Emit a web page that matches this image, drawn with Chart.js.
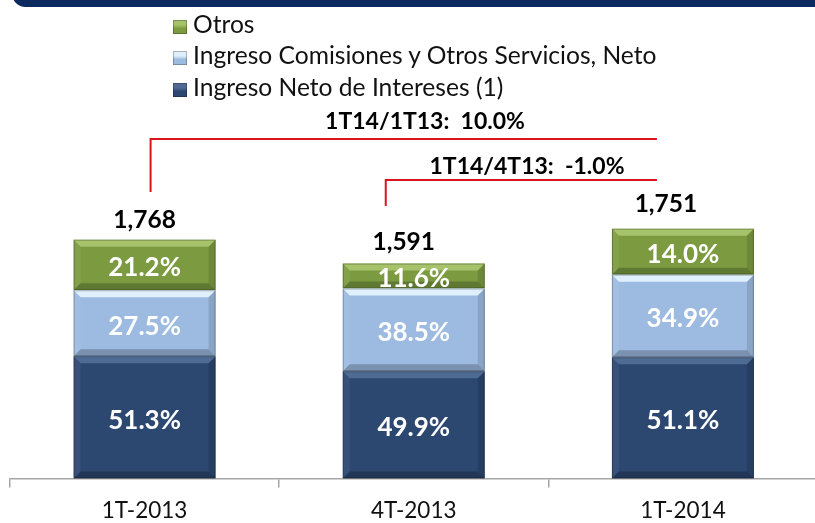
<!DOCTYPE html>
<html>
<head>
<meta charset="utf-8">
<script src="https://cdn.jsdelivr.net/npm/chart.js@4.4.1/dist/chart.umd.min.js"></script>
<style>
  html, body { margin: 0; padding: 0; background: #fff; overflow: hidden; width: 815px; height: 523px; }
  #topbar { position: absolute; left: 12px; top: -20px; width: 830px; height: 27px; background: #0c2a60; border-radius: 14px; }
  #wrap { position: absolute; left: 0; top: 0; width: 830px; height: 540px; }
  #legend { position: absolute; left: 173px; top: 8px; font-family: Lato, sans-serif; font-size: 24.6px; color: #111; }
  #legend div { height: 31.3px; line-height: 31.3px; white-space: nowrap; }
  #legend span.box { display: inline-block; width: 14px; height: 14px; margin-right: 6px; vertical-align: -1px; }
</style>
</head>
<body>
<div id="topbar"></div>
<div id="wrap"><canvas id="chart"></canvas></div>
<div id="legend"></div>
<script>
// data
const categories = ['1T-2013', '4T-2013', '1T-2014'];
const totals = [1768, 1591, 1751];
const seriesNames = ['Ingreso Neto de Intereses (1)', 'Ingreso Comisiones y Otros Servicios, Neto', 'Otros'];
const interesesValues = [905, 794, 897];
const comisionesValues = [488, 612, 612];
const otrosValues = [375, 185, 340];
const interesesPct = [51.3, 49.9, 51.1];
const comisionesPct = [27.5, 38.5, 34.9];
const otrosPct = [21.2, 11.6, 14.0];
const comparisonLabels = ['1T14/1T13:  10.0%', '1T14/4T13:  -1.0%'];
const yMax = 3543;

const colors = ['#2c4770', '#9dbbe1', '#7c9b40'];
const bevelTop = ['rgba(120,150,190,0.45)', 'rgba(235,248,255,0.85)', 'rgba(200,225,140,0.55)'];
const pctLists = [interesesPct, comisionesPct, otrosPct];

// legend, top entry first like the slide
const legendEl = document.getElementById('legend');
[2, 1, 0].forEach(i => {
  const row = document.createElement('div');
  const box = document.createElement('span');
  box.className = 'box';
  box.style.background = 'linear-gradient(' + bevelTop[i] + ' 0 35%, ' + colors[i] + ' 60%)';
  box.style.backgroundColor = colors[i];
  box.style.boxShadow = 'inset 0 0 0 1px rgba(0,0,0,0.25)';
  row.appendChild(box);
  row.appendChild(document.createTextNode(seriesNames[i]));
  legendEl.appendChild(row);
});

function poly(ctx, pts, fill) {
  ctx.beginPath();
  ctx.moveTo(pts[0][0], pts[0][1]);
  for (let k = 1; k < pts.length; k++) ctx.lineTo(pts[k][0], pts[k][1]);
  ctx.closePath();
  ctx.fillStyle = fill;
  ctx.fill();
}

// bevel look + percent label, drawn right after each segment series
const bevelPlugin = {
  id: 'bevel',
  afterDatasetDraw(chart, args) {
    const ctx = chart.ctx;
    const i = args.index;
    const meta = args.meta;
    ctx.save();
    meta.data.forEach((bar, j) => {
      const p = bar.getProps(['x', 'y', 'base', 'width'], true);
      const L = p.x - p.width / 2, R = p.x + p.width / 2, T = p.y, B = p.base;
      const b = Math.min(7, (B - T) / 2);
      poly(ctx, [[L, T], [R, T], [R - b, T + b], [L + b, T + b]], bevelTop[i]);
      poly(ctx, [[L, T], [L + b, T + b], [L + b, B - b], [L, B]], 'rgba(255,255,255,0.06)');
      poly(ctx, [[R, T], [R, B], [R - b, B - b], [R - b, T + b]], 'rgba(0,0,0,0.12)');
      poly(ctx, [[L, B], [L + b, B - b], [R - b, B - b], [R, B]], 'rgba(0,0,0,0.22)');
      ctx.strokeStyle = 'rgba(0,0,0,0.25)';
      ctx.lineWidth = 1;
      ctx.strokeRect(L + 0.5, T + 0.5, p.width - 1, B - T - 1);
      ctx.fillStyle = '#fff';
      ctx.font = 'bold 26px Lato';
      ctx.textAlign = 'center';
      ctx.textBaseline = 'middle';
      ctx.fillText(pctLists[i][j].toFixed(1) + '%', p.x, (T + B) / 2 + 3);
    });
    ctx.restore();
  },
  afterDatasetsDraw(chart) {
    const ctx = chart.ctx;
    const x = chart.scales.x;
    const topMeta = chart.getDatasetMeta(2);
    ctx.save();
    ctx.fillStyle = '#000';
    ctx.font = 'bold 24.5px Lato';
    ctx.textAlign = 'center';
    ctx.textBaseline = 'middle';
    const dx = [0, -10, -17], dy = [-20, -21, -25];
    topMeta.data.forEach((bar, j) => {
      ctx.fillText(totals[j].toLocaleString('en-US'), bar.x + dx[j], bar.y + dy[j]);
    });
    // comparison brackets
    const x0 = x.getPixelForValue(0) + 6;
    const x1 = x.getPixelForValue(1) - 28;
    const xe = x.getPixelForValue(2) - 26;
    ctx.strokeStyle = '#d9141c';
    ctx.lineWidth = 2;
    ctx.beginPath();
    ctx.moveTo(x0, 192); ctx.lineTo(x0, 139); ctx.lineTo(xe, 139);
    ctx.moveTo(x1, 206); ctx.lineTo(x1, 180); ctx.lineTo(xe, 180);
    ctx.stroke();
    ctx.font = 'bold 23px Lato';
    ctx.fillText(comparisonLabels[0], 425, 122);
    ctx.fillText(comparisonLabels[1], 527, 167);
    ctx.restore();
  }
};

const datasets = [interesesValues, comisionesValues, otrosValues].map((vals, i) => ({
  label: seriesNames[i],
  data: vals,
  backgroundColor: colors[i],
  borderWidth: 0,
  categoryPercentage: 1,
  barPercentage: 0.5275
}));

new Chart(document.getElementById('chart'), {
  type: 'bar',
  data: { labels: categories, datasets: datasets },
  options: {
    responsive: true,
    maintainAspectRatio: false,
    animation: false,
    layout: { padding: { left: 10, right: 12.5, top: 0, bottom: 5.6 } },
    plugins: { legend: { display: false }, tooltip: { enabled: false } },
    scales: {
      x: {
        stacked: true,
        border: { display: true, color: '#a6a6a6', width: 1.5 },
        grid: { drawOnChartArea: false, drawTicks: true, tickLength: 9, color: '#a6a6a6', lineWidth: 1.5 },
        ticks: { color: '#111', padding: 10, font: { family: 'Lato', size: 22.5 } }
      },
      y: { stacked: true, display: false, min: 0, max: yMax }
    }
  },
  plugins: [bevelPlugin]
});
</script>
</body>
</html>
